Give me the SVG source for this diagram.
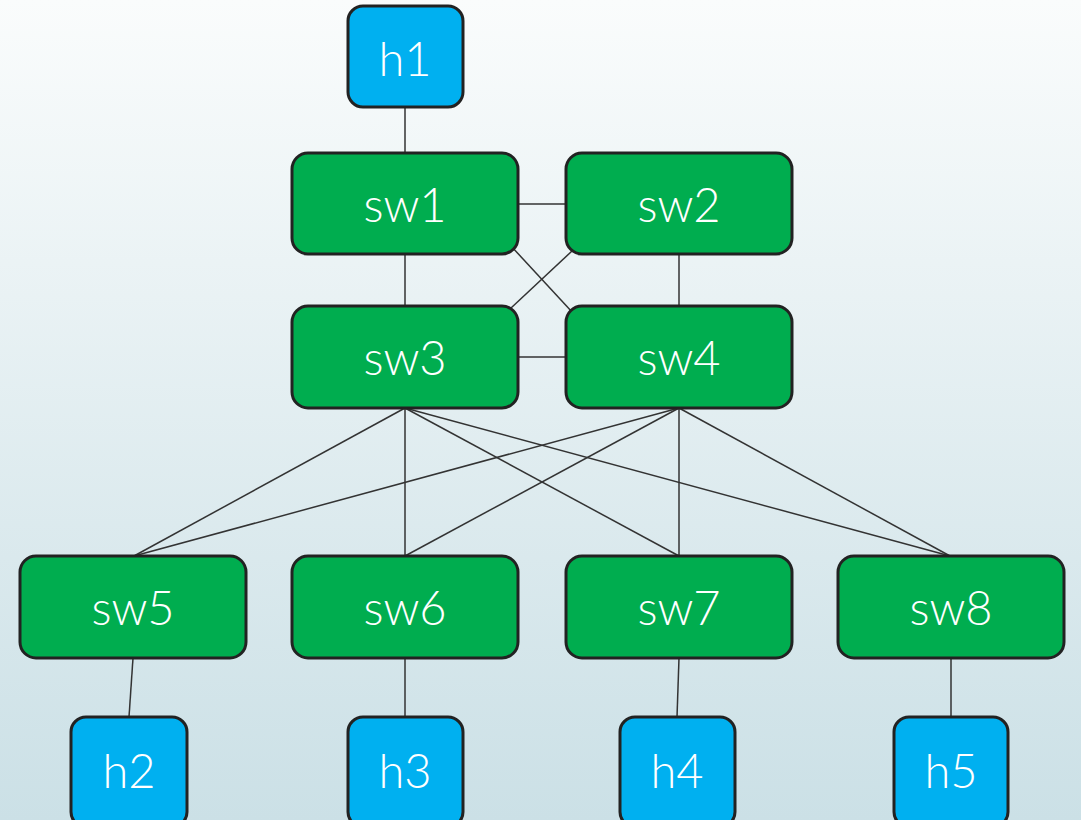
<svg xmlns="http://www.w3.org/2000/svg" width="1081" height="820" viewBox="0 0 1081 820">
<defs>
<linearGradient id="bg" x1="0" y1="0" x2="0" y2="1">
<stop offset="0" stop-color="#fafcfc"/>
<stop offset="1" stop-color="#cbe0e6"/>
</linearGradient>
</defs>
<style>
.sw{fill:#00ad4f;stroke:#222;stroke-width:3}
.h{fill:#00b0f0;stroke:#222;stroke-width:3}
.t{fill:#fff;font-family:Lato,"Open Sans",sans-serif;font-weight:300;font-size:47px;text-anchor:middle}
.c line{stroke:#333;stroke-width:1.5}
</style>
<rect width="1081" height="820" fill="url(#bg)"/>
<g class="c" id="connectors">
<line x1="405" y1="107" x2="405" y2="153"/>
<line x1="518" y1="204" x2="566" y2="204"/>
<line x1="405" y1="254" x2="405" y2="306"/>
<line x1="679" y1="254" x2="679" y2="306"/>
<line x1="518" y1="357" x2="566" y2="357"/>
<line x1="511" y1="246" x2="573" y2="313"/>
<line x1="572" y1="251" x2="511" y2="308"/>
<line x1="405" y1="408" x2="134" y2="556"/>
<line x1="405" y1="408" x2="405" y2="556"/>
<line x1="405" y1="408" x2="679" y2="556"/>
<line x1="405" y1="408" x2="950" y2="556"/>
<line x1="679" y1="408" x2="134" y2="556"/>
<line x1="679" y1="408" x2="405" y2="556"/>
<line x1="679" y1="408" x2="679" y2="556"/>
<line x1="679" y1="408" x2="950" y2="556"/>
<line x1="133" y1="658" x2="129" y2="717"/>
<line x1="405" y1="658" x2="405" y2="717"/>
<line x1="679" y1="658" x2="677" y2="717"/>
<line x1="951" y1="658" x2="951" y2="717"/>
</g>
<g id="h1"><rect class="h" x="348" y="6" width="115" height="101" rx="15"/><text class="t" x="405" y="76">h1</text></g>
<g id="sw1"><rect class="sw" x="292" y="153" width="226" height="101" rx="16"/><text class="t" x="405" y="222">sw1</text></g>
<g id="sw2"><rect class="sw" x="566" y="153" width="226" height="101" rx="16"/><text class="t" x="679" y="222">sw2</text></g>
<g id="sw3"><rect class="sw" x="292" y="306" width="226" height="102" rx="16"/><text class="t" x="405" y="375">sw3</text></g>
<g id="sw4"><rect class="sw" x="566" y="306" width="226" height="102" rx="16"/><text class="t" x="679" y="375">sw4</text></g>
<g id="sw5"><rect class="sw" x="20" y="556" width="226" height="102" rx="16"/><text class="t" x="133" y="625">sw5</text></g>
<g id="sw6"><rect class="sw" x="292" y="556" width="226" height="102" rx="16"/><text class="t" x="405" y="625">sw6</text></g>
<g id="sw7"><rect class="sw" x="566" y="556" width="226" height="102" rx="16"/><text class="t" x="679" y="625">sw7</text></g>
<g id="sw8"><rect class="sw" x="838" y="556" width="226" height="102" rx="16"/><text class="t" x="951" y="625">sw8</text></g>
<g id="h2"><rect class="h" x="71" y="717" width="116" height="110" rx="15"/><text class="t" x="129" y="788">h2</text></g>
<g id="h3"><rect class="h" x="348" y="717" width="115" height="110" rx="15"/><text class="t" x="405" y="788">h3</text></g>
<g id="h4"><rect class="h" x="620" y="717" width="115" height="110" rx="15"/><text class="t" x="677" y="788">h4</text></g>
<g id="h5"><rect class="h" x="894" y="717" width="114" height="110" rx="15"/><text class="t" x="951" y="788">h5</text></g>
</svg>
